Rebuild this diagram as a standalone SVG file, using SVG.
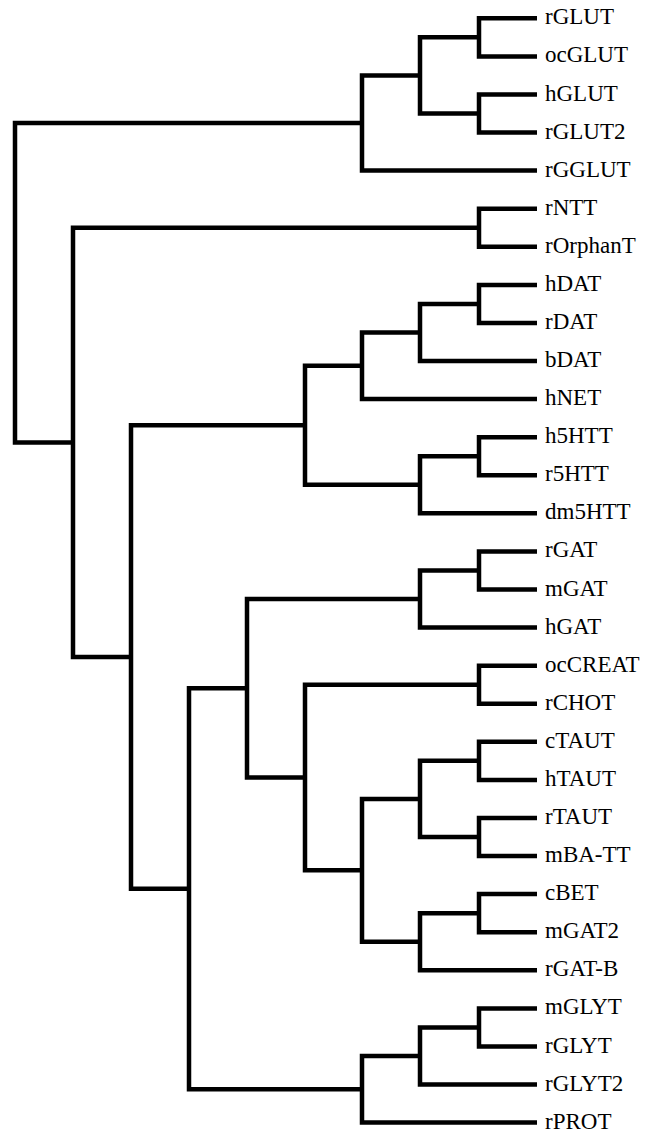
<svg xmlns="http://www.w3.org/2000/svg" width="650" height="1133" viewBox="0 0 650 1133">
<style>
.br{fill:none;stroke:#000;stroke-width:4.5;stroke-linejoin:miter;stroke-linecap:butt}
.lb{font-family:"Liberation Serif","Times New Roman",serif;font-size:23px;fill:#000}
</style>
<rect width="650" height="1133" fill="#fff"/>
<g id="connectors" class="br">
<path d="M537 18.3 H479 V56.4 H537"/>
<path d="M537 94.5 H479 V132.5 H537"/>
<path d="M479 37.35 H420 V113.5 H479"/>
<path d="M420 75.4 H362 V170.6 H537"/>
<path d="M362 123 H15 V442.4 H73"/>
<path d="M537 208.7 H479 V246.8 H537"/>
<path d="M479 227.75 H73 V657.05 H131"/>
<path d="M305 425.3 H131 V888.8 H189"/>
<path d="M362 365.8 H305 V484.8 H420"/>
<path d="M420 332.45 H362 V399.1 H537"/>
<path d="M479 303.9 H420 V361 H537"/>
<path d="M537 284.9 H479 V322.9 H537"/>
<path d="M479 456.25 H420 V513.3 H537"/>
<path d="M537 437.2 H479 V475.3 H537"/>
<path d="M247 688.25 H189 V1089.3 H362"/>
<path d="M420 599 H247 V777.5 H305"/>
<path d="M479 570.45 H420 V627.6 H537"/>
<path d="M537 551.4 H479 V589.5 H537"/>
<path d="M479 684.7 H305 V870.3 H362"/>
<path d="M537 665.7 H479 V703.7 H537"/>
<path d="M420 798.95 H362 V941.7 H420"/>
<path d="M479 760.85 H420 V837.05 H479"/>
<path d="M537 741.8 H479 V779.9 H537"/>
<path d="M537 818 H479 V856.1 H537"/>
<path d="M479 913.15 H420 V970.3 H537"/>
<path d="M537 894.1 H479 V932.2 H537"/>
<path d="M420 1056 H362 V1122.6 H537"/>
<path d="M479 1027.45 H420 V1084.5 H537"/>
<path d="M537 1008.4 H479 V1046.5 H537"/>
</g>
<g class="lb">
<g id="rGLUT"><text x="545" y="24.3">rGLUT</text></g>
<g id="ocGLUT"><text x="545" y="62.4">ocGLUT</text></g>
<g id="hGLUT"><text x="545" y="100.5">hGLUT</text></g>
<g id="rGLUT2"><text x="545" y="138.5">rGLUT2</text></g>
<g id="rGGLUT"><text x="545" y="176.6">rGGLUT</text></g>
<g id="rNTT"><text x="545" y="214.7">rNTT</text></g>
<g id="rOrphanT"><text x="545" y="252.8">rOrphanT</text></g>
<g id="hDAT"><text x="545" y="290.9">hDAT</text></g>
<g id="rDAT"><text x="545" y="328.9">rDAT</text></g>
<g id="bDAT"><text x="545" y="367">bDAT</text></g>
<g id="hNET"><text x="545" y="405.1">hNET</text></g>
<g id="h5HTT"><text x="545" y="443.2">h5HTT</text></g>
<g id="r5HTT"><text x="545" y="481.3">r5HTT</text></g>
<g id="dm5HTT"><text x="545" y="519.3">dm5HTT</text></g>
<g id="rGAT"><text x="545" y="557.4">rGAT</text></g>
<g id="mGAT"><text x="545" y="595.5">mGAT</text></g>
<g id="hGAT"><text x="545" y="633.6">hGAT</text></g>
<g id="ocCREAT"><text x="545" y="671.7">ocCREAT</text></g>
<g id="rCHOT"><text x="545" y="709.7">rCHOT</text></g>
<g id="cTAUT"><text x="545" y="747.8">cTAUT</text></g>
<g id="hTAUT"><text x="545" y="785.9">hTAUT</text></g>
<g id="rTAUT"><text x="545" y="824">rTAUT</text></g>
<g id="mBA-TT"><text x="545" y="862.1">mBA-TT</text></g>
<g id="cBET"><text x="545" y="900.1">cBET</text></g>
<g id="mGAT2"><text x="545" y="938.2">mGAT2</text></g>
<g id="rGAT-B"><text x="545" y="976.3">rGAT-B</text></g>
<g id="mGLYT"><text x="545" y="1014.4">mGLYT</text></g>
<g id="rGLYT"><text x="545" y="1052.5">rGLYT</text></g>
<g id="rGLYT2"><text x="545" y="1090.5">rGLYT2</text></g>
<g id="rPROT"><text x="545" y="1128.6">rPROT</text></g>
</g>
</svg>
